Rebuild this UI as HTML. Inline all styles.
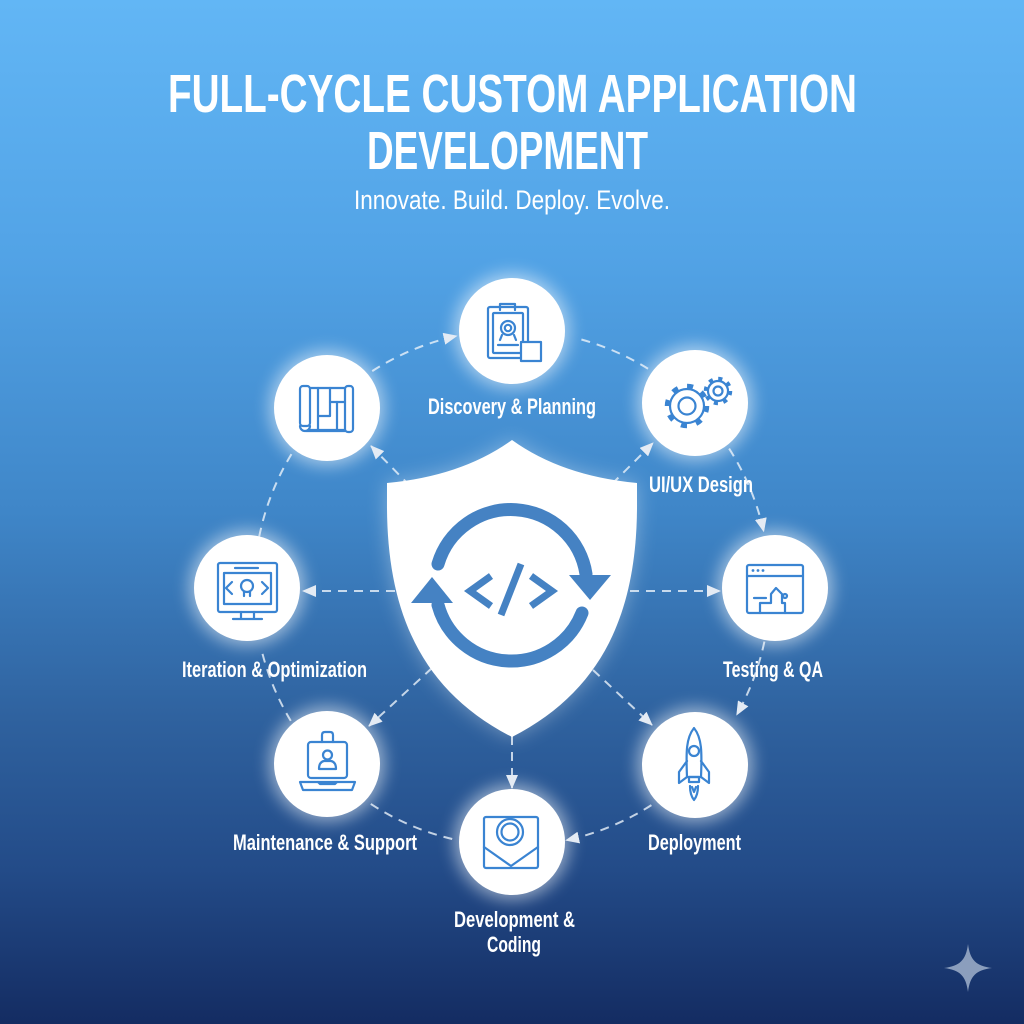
<!DOCTYPE html>
<html><head><meta charset="utf-8"><style>
html,body{margin:0;padding:0;width:1024px;height:1024px;overflow:hidden;background:#3b7fc2}
svg{display:block}
.t{font-family:"Liberation Sans",sans-serif;fill:#fff}
.ic{fill:none;stroke:#3a84d2;stroke-width:2.2;stroke-linecap:round;stroke-linejoin:round}
.dash{fill:none;stroke:rgba(235,242,250,0.8);stroke-width:2;stroke-dasharray:9 7}
</style></head><body>
<svg width="1024" height="1024" viewBox="0 0 1024 1024" xmlns="http://www.w3.org/2000/svg">
<defs>
<linearGradient id="bg" x1="0" y1="0" x2="0" y2="1">
<stop offset="0" stop-color="#62b6f5"/>
<stop offset="0.25" stop-color="#52a3e6"/>
<stop offset="0.5" stop-color="#3f86c8"/>
<stop offset="0.7" stop-color="#2f629f"/>
<stop offset="0.85" stop-color="#234b88"/>
<stop offset="1" stop-color="#142c62"/>
</linearGradient>
<filter id="blur" x="-50%" y="-50%" width="200%" height="200%"><feGaussianBlur stdDeviation="8"/></filter>
<filter id="blur2" x="-30%" y="-30%" width="160%" height="160%"><feGaussianBlur stdDeviation="10"/></filter>
<marker id="ah" viewBox="0 0 14 12" refX="13" refY="6" markerWidth="14" markerHeight="12" markerUnits="userSpaceOnUse" orient="auto"><path d="M0,0 L14,6 L0,12 Z" fill="#e4ebf4"/></marker>
</defs>
<rect width="1024" height="1024" fill="url(#bg)"/>

<!-- title -->
<text class="t" x="168" y="112" font-size="54" font-weight="bold" textLength="689" lengthAdjust="spacingAndGlyphs">FULL-CYCLE CUSTOM APPLICATION</text>
<text class="t" x="367" y="169" font-size="54" font-weight="bold" textLength="281" lengthAdjust="spacingAndGlyphs">DEVELOPMENT</text>
<text class="t" x="354" y="209" font-size="27" textLength="316" lengthAdjust="spacingAndGlyphs">Innovate. Build. Deploy. Evolve.</text>

<!-- glows -->
<g fill="#ffffff" opacity="0.5" filter="url(#blur)">
<circle cx="512" cy="331" r="58"/>
<circle cx="327" cy="408" r="58"/>
<circle cx="695" cy="403" r="58"/>
<circle cx="775" cy="588" r="58"/>
<circle cx="247" cy="588" r="58"/>
<circle cx="327" cy="764" r="58"/>
<circle cx="695" cy="765" r="58"/>
<circle cx="512" cy="842" r="58"/>
</g>
<path d="M512,440 Q462,476 387,483 L387,500 C386,610 420,690 512,737 C604,690 638,610 637,500 L637,483 Q562,476 512,440 Z" fill="#ffffff" opacity="0.35" filter="url(#blur2)"/>

<!-- outer ring connectors -->
<path class="dash" d="M372.2,371.1 A258,258 0 0 1 456.6,336" marker-end="url(#ah)"/>
<path class="dash" d="M581.4,339.5 A258,258 0 0 1 648.7,369.2"/>
<path class="dash" d="M729.1,448.6 A258,258 0 0 1 763.7,531.3" marker-end="url(#ah)"/>
<path class="dash" d="M764.4,641.6 A258,258 0 0 1 736.8,714.7" marker-end="url(#ah)"/>
<path class="dash" d="M651.4,805.1 A258,258 0 0 1 566.1,840.3" marker-end="url(#ah)"/>
<path class="dash" d="M452.2,839 A258,258 0 0 1 369.2,802.9"/>
<path class="dash" d="M290.8,720.9 A258,258 0 0 1 261,647.8"/>
<path class="dash" d="M259.2,536.6 A258,258 0 0 1 292,453.2"/>

<!-- spokes -->
<line class="dash" x1="410" y1="486" x2="371" y2="446" marker-end="url(#ah)"/>
<line class="dash" x1="612" y1="484" x2="653" y2="443" marker-end="url(#ah)"/>
<line class="dash" x1="395" y1="591" x2="303" y2="591" marker-end="url(#ah)"/>
<line class="dash" x1="630" y1="591" x2="720" y2="591" marker-end="url(#ah)"/>
<line class="dash" x1="432" y1="668" x2="369" y2="726" marker-end="url(#ah)"/>
<line class="dash" x1="593" y1="670" x2="652" y2="725" marker-end="url(#ah)"/>
<line class="dash" x1="512" y1="736" x2="512" y2="788" marker-end="url(#ah)"/>

<!-- shield -->
<path d="M512,440 Q462,476 387,483 L387,500 C386,610 420,690 512,737 C604,690 638,610 637,500 L637,483 Q562,476 512,440 Z" fill="#ffffff"/>
<g fill="none" stroke="#4582c3" stroke-width="13" stroke-linecap="round">
<path d="M438,564 A76,76 0 0 1 586,574"/>
<path d="M582,613 A76,76 0 0 1 438,605"/>
</g>
<g fill="#4582c3">
<path d="M569,575 L611,575 L590,600 Z"/>
<path d="M411,603 L453,603 L432,577 Z"/>
</g>
<g fill="none" stroke="#4582c3" stroke-width="7" stroke-linecap="butt" stroke-linejoin="miter">
<polyline points="491,576 470,591 491,606"/>
<polyline points="531,576 552,591 531,606"/>
<line x1="521" y1="564" x2="501" y2="615" stroke-width="7"/>
</g>

<!-- circles -->
<g fill="#ffffff">
<circle cx="512" cy="331" r="53"/>
<circle cx="327" cy="408" r="53"/>
<circle cx="695" cy="403" r="53"/>
<circle cx="775" cy="588" r="53"/>
<circle cx="247" cy="588" r="53"/>
<circle cx="327" cy="764" r="53"/>
<circle cx="695" cy="765" r="53"/>
<circle cx="512" cy="842" r="53"/>
</g>

<!-- icon: clipboard -->
<g class="ic">
<rect x="488" y="307" width="40" height="51" rx="2"/>
<rect x="493" y="313" width="30" height="40" rx="1"/>
<path d="M500,310 V304 H515 V310"/>
<circle cx="508" cy="328" r="7"/>
<circle cx="508" cy="328" r="3.2"/>
<path d="M502,335 L500,340 M514,335 L516,340"/>
<line x1="498" y1="345" x2="518" y2="345"/>
<rect x="521" y="342" width="20" height="19" fill="#fff"/>
</g>

<!-- icon: blueprint -->
<g class="ic">
<path d="M310,388 H345 M310,430 H345"/>
<rect x="300" y="386" width="10" height="40" rx="3"/>
<path d="M300,426 a5,5 0 1 0 10,0"/>
<path d="M306,431 H345"/>
<rect x="345" y="386" width="8" height="46" rx="3"/>
<path d="M318,388 V416 H330 V388"/>
<path d="M330,402 H345"/>
<path d="M337,402 V430"/>
<path d="M318,416 V430"/>
</g>

<!-- icon: gears -->
<g class="ic">
<circle cx="687" cy="406" r="17"/>
<circle cx="687" cy="406" r="8.5"/>
<circle cx="687" cy="406" r="19.5" stroke-width="5.5" stroke-dasharray="6 9.3" stroke-linecap="butt"/>
<circle cx="718" cy="391" r="10" fill="#fff"/>
<circle cx="718" cy="391" r="4.5"/>
<circle cx="718" cy="391" r="12" stroke-width="4.5" stroke-dasharray="4 5.4" stroke-linecap="butt"/>
</g>

<!-- icon: browser/testing -->
<g class="ic">
<rect x="747" y="565" width="56" height="48" rx="2"/>
<line x1="747" y1="576" x2="803" y2="576"/>
<path d="M760,613 V603 H771 V594 L776,588 L782,594 V603 H785 V613"/>
<path d="M754,598 H766"/>
<circle cx="785" cy="596" r="2"/>
</g>
<g fill="#3a84d2"><circle cx="753" cy="570.5" r="1.4"/><circle cx="758" cy="570.5" r="1.4"/><circle cx="763" cy="570.5" r="1.4"/></g>

<!-- icon: monitor -->
<g class="ic">
<rect x="218" y="563" width="59" height="49" rx="2"/>
<line x1="235" y1="568" x2="258" y2="568"/>
<rect x="224" y="573" width="47" height="31"/>
<path d="M241,612 V619 M254,612 V619 M233,619 H262"/>
<polyline points="232,582 226,588 232,594"/>
<polyline points="262,582 268,588 262,594"/>
<circle cx="247" cy="586" r="6"/>
<path d="M244,592 V596 M250,592 V596"/>
</g>

<!-- icon: laptop person -->
<g class="ic">
<rect x="308" y="742" width="39" height="36" rx="3"/>
<path d="M322,742 V735 Q322,732 325,732 H330 Q333,732 333,735 V742"/>
<circle cx="327.5" cy="755" r="4.5"/>
<path d="M319,769 Q319,762 324,761 H331 Q336,762 336,769 Z"/>
<path d="M300,782 H355 L352,790 H303 Z"/>
<path d="M318,782 L320,784 H335 L337,782"/>
</g>

<!-- icon: development -->
<g class="ic">
<rect x="484" y="817" width="54" height="51" rx="2"/>
<circle cx="510" cy="832" r="13"/>
<circle cx="510" cy="832" r="8.5"/>
<polyline points="484,847 511,866 538,847"/>
</g>

<!-- icon: rocket -->
<g class="ic">
<path d="M694,728 C686,738 686,752 687,777 H701 C702,752 702,738 694,728 Z"/>
<circle cx="694" cy="751" r="5"/>
<path d="M687,761 L679,772 V783 L687,777"/>
<path d="M701,761 L709,772 V783 L701,777"/>
<rect x="689" y="777" width="10" height="5"/>
<path d="M690,786 Q690,795 694,800 Q698,795 698,786"/>
<path d="M692,787 L694,792 L696,787"/>
</g>

<!-- labels -->
<g class="t" font-size="22" font-weight="bold">
<text x="428" y="414" textLength="168" lengthAdjust="spacingAndGlyphs">Discovery &amp; Planning</text>
<text x="649" y="492" textLength="104" lengthAdjust="spacingAndGlyphs">UI/UX Design</text>
<text x="723" y="677" textLength="100" lengthAdjust="spacingAndGlyphs">Testing &amp; QA</text>
<text x="182" y="677" textLength="185" lengthAdjust="spacingAndGlyphs">Iteration &amp; Optimization</text>
<text x="233" y="850" textLength="184" lengthAdjust="spacingAndGlyphs">Maintenance &amp; Support</text>
<text x="648" y="850" textLength="93" lengthAdjust="spacingAndGlyphs">Deployment</text>
<text x="454" y="927" textLength="121" lengthAdjust="spacingAndGlyphs">Development &amp;</text>
<text x="487" y="952" textLength="54" lengthAdjust="spacingAndGlyphs">Coding</text>
</g>

<!-- sparkle -->
<path d="M968,944 C970,960 976,966 992,968 C976,970 970,976 968,992 C966,976 960,970 944,968 C960,966 966,960 968,944 Z" fill="#8b9ebd"/>
</svg>
</body></html>
